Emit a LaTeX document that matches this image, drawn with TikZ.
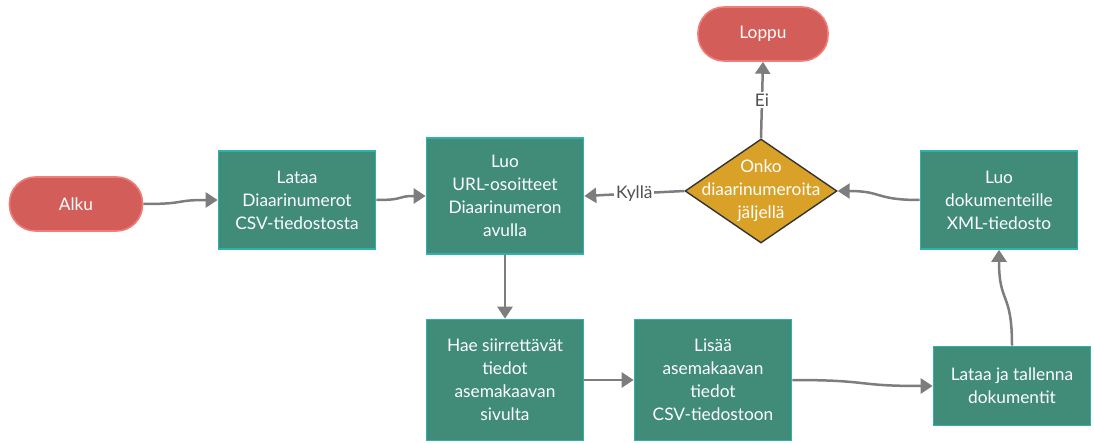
\documentclass[tikz,border=0pt]{standalone}
\usepackage{fontspec}
\setmainfont{Lato}
\usetikzlibrary{shapes.geometric,arrows.meta}
\definecolor{boxg}{HTML}{418B79}
\definecolor{boxb}{HTML}{2BB3AC}
\definecolor{redf}{HTML}{D35D58}
\definecolor{redb}{HTML}{F27C77}
\definecolor{yel}{HTML}{D9A128}
\definecolor{arr}{HTML}{7D7D7D}
\definecolor{lbltxt}{HTML}{505050}
\begin{document}
\begin{tikzpicture}[x=1pt,y=-1pt,
  txt/.style={font=\fontsize{17.3}{23}\selectfont},
  proc/.style={txt, draw=boxb, fill=boxg, line width=1.6pt, text=white, align=center,
    minimum width=157pt, inner sep=0pt},
  term/.style={txt, draw=redb, fill=redf, line width=1.6pt, text=white,
    rounded corners=26pt, inner sep=0pt},
  dia/.style={diamond, draw=black!80, fill=yel, line width=1.4pt, inner sep=0pt,
    minimum width=152pt, minimum height=104pt},
  conn/.style={draw=arr, line width=2.5pt, -{Triangle[length=12pt,width=15pt]}},
  lbl/.style={txt, fill=white, text=lbltxt, inner sep=2pt}]
\useasboundingbox (0,0) rectangle (1094,443);

\node[term, minimum width=133pt, minimum height=54pt] (alku) at (76,204) {Alku};
\node[proc, minimum height=98pt] (lataa) at (297,200) {Lataa\\Diaarinumerot\\CSV-tiedostosta};
\node[proc, minimum height=116pt] (url) at (505,196) {Luo\\URL-osoitteet\\Diaarinumeron\\avulla};
\node[dia] (dec) at (761,191) {};
\node[txt, text=white, align=center, inner sep=0pt] (dectext) at (dec.center) {Onko\\diaarinumeroita\\jäljellä};
\node[term, minimum width=130pt, minimum height=54pt] (loppu) at (763,34) {Loppu};
\node[proc, minimum height=98pt] (dok) at (999,200) {Luo\\dokumenteille\\XML-tiedosto};
\node[proc, minimum height=121pt] (hae) at (505,380) {Hae siirrettävät\\tiedot\\asemakaavan\\sivulta};
\node[proc, minimum height=121pt] (lisaa) at (713,380) {Lisää\\asemakaavan\\tiedot\\CSV-tiedostoon};
\node[proc, minimum height=79pt] (tallenna) at (1012,386) {Lataa ja tallenna\\dokumentit};

\draw[conn] (alku.east) .. controls +(45,0) and +(-45,0) .. (lataa.west);
\draw[conn] (lataa.east) .. controls +(30,0) and +(-30,0) .. (url.west);
\draw[conn] (url.south) .. controls +(0,30) and +(0,-30) .. (hae.north);
\draw[conn] (hae.east) -- (lisaa.west);
\draw[conn] (lisaa.east) .. controls +(80,0) and +(-80,0) .. (tallenna.west);
\draw[conn] (tallenna.north) .. controls +(0,-55) and +(0,55) .. (dok.south);
\draw[conn] (dok.west) .. controls +(-45,0) and +(45,0) .. (dec.east);
\draw[conn] (dec.west) -- node[lbl] {Kyllä} (url.east);
\draw[conn] (dec.north) -- node[lbl] {Ei} (loppu.south);
\end{tikzpicture}
\end{document}
